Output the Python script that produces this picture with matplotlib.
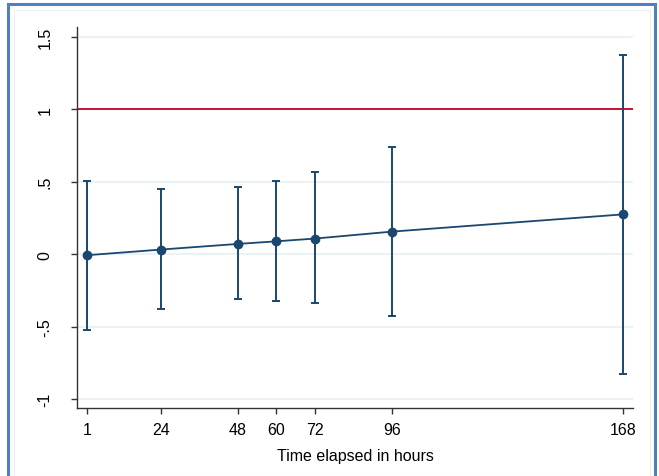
import matplotlib.pyplot as plt
import numpy as np
from matplotlib.lines import Line2D
from matplotlib.patches import Rectangle

# estimates by hours elapsed, with 95% CI bounds
hours = [1, 24, 48, 60, 72, 96, 168]
estimate = [-0.007, 0.032, 0.071, 0.089, 0.108, 0.156, 0.275]
ci_low = [-0.52, -0.38, -0.31, -0.32, -0.34, -0.43, -0.824]
ci_high = [0.509, 0.447, 0.461, 0.505, 0.57, 0.738, 1.376]
yticks = [-1, -0.5, 0, 0.5, 1, 1.5]
ytick_labels = ["-1", "-.5", "0", ".5", "1", "1.5"]
ref_level = 1

navy = "#1a476f"
red = "#c8102e"
grid_col = "#e8f0f1"

plt.rcParams["font.family"] = ["Liberation Sans", "DejaVu Sans"]

fig = plt.figure(figsize=(6.59, 4.77), dpi=100)
W, H = 659, 477
ax = fig.add_axes([77 / W, 1 - 409 / H, (633 - 77) / W, (409 - 28) / H])

est = np.array(estimate)
yerr = [est - np.array(ci_low), np.array(ci_high) - est]

for y in yticks:
    if y != ref_level:
        ax.axhline(y, color=grid_col, lw=1.2, zorder=0)
ax.axhline(ref_level, color=red, lw=1.4, zorder=1)

ax.errorbar(hours, estimate, yerr=yerr, fmt="none", ecolor=navy,
            elinewidth=1.4, capsize=3, capthick=1.4, zorder=2)
ax.plot(hours, estimate, color=navy, lw=1.3, marker="o", markersize=6,
        zorder=3)

ax.set_xlim(-2.1, 171.1)
ax.set_ylim(-1.062, 1.569)
ax.set_xticks(hours)
ax.set_xticklabels([str(h) for h in hours])
ax.set_yticks(yticks)
ax.set_yticklabels(ytick_labels, rotation=90, va="center")
ax.tick_params(axis="both", labelsize=11.5, length=4.5, width=1, color="#333333")
ax.tick_params(axis="y", pad=13)
ax.tick_params(axis="x", pad=5.5)
ax.set_xlabel("Time elapsed in hours", fontsize=11.5, labelpad=8)

for side in ["top", "right"]:
    ax.spines[side].set_visible(False)
for side in ["left", "bottom"]:
    ax.spines[side].set_color("#333333")
    ax.spines[side].set_linewidth(1)

# faint inner graph region and blue outer frame
fig.patches.append(Rectangle((14 / W, 0), (650 - 14) / W, 1 - 11 / H,
                             transform=fig.transFigure, fill=False,
                             edgecolor="#eeeeee", lw=0.8))
frame_kw = dict(transform=fig.transFigure, color="#4f81bd", lw=2.2)
fig.lines.append(Line2D([8 / W, 8 / W], [0, 1 - 5 / H], **frame_kw))
fig.lines.append(Line2D([655 / W, 655 / W], [0, 1 - 5 / H], **frame_kw))
fig.lines.append(Line2D([8 / W, 655 / W], [1 - 5 / H, 1 - 5 / H], **frame_kw))

fig.savefig("out.png", dpi=100)
